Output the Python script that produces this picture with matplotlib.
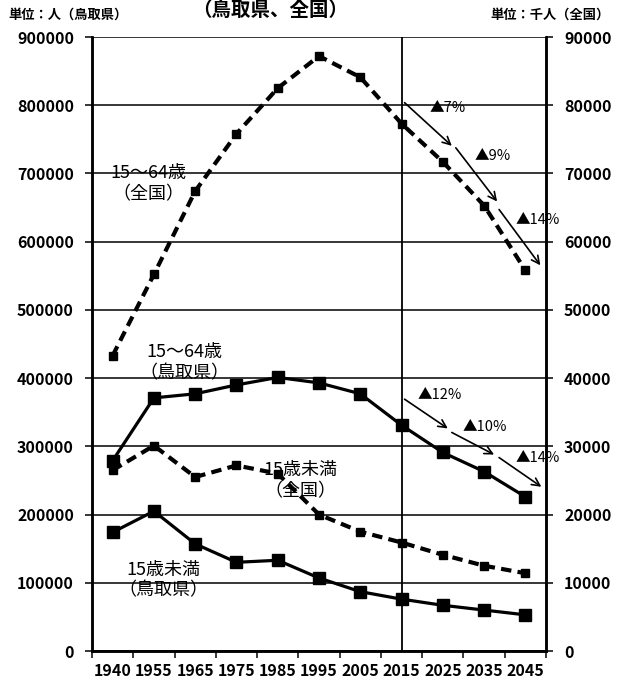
import numpy as np
import matplotlib
matplotlib.use('Agg')
import matplotlib.pyplot as plt
from matplotlib.transforms import offset_copy

plt.rcParams['font.family'] = ['Noto Sans CJK JP', 'DejaVu Sans']

# data
years = ['1940', '1955', '1965', '1975', '1985', '1995', '2005', '2015', '2025', '2035', '2045']
tottori_15_64 = [279000, 371000, 377000, 390000, 401000, 393000, 377000, 331000, 291000, 263000, 226000]
tottori_under15 = [174000, 205000, 157000, 130000, 133000, 107000, 87000, 76000, 67000, 60000, 53000]
japan_15_64 = [43300, 55200, 67400, 75800, 82500, 87200, 84100, 77300, 71700, 65300, 55800]   # thousands
japan_under15 = [26500, 30100, 25500, 27200, 26000, 20000, 17500, 15900, 14100, 12500, 11400]  # thousands
left_ticks = [0, 100000, 200000, 300000, 400000, 500000, 600000, 700000, 800000, 900000]
right_ticks = [0, 10000, 20000, 30000, 40000, 50000, 60000, 70000, 80000, 90000]
japan_drops = ['▲7%', '▲9%', '▲14%']
tottori_drops = ['▲12%', '▲10%', '▲14%']

fig = plt.figure(figsize=(6.24, 6.84), dpi=100)
ax = fig.add_axes([92 / 624, 33 / 684, 454 / 624, 614 / 684])
ax2 = ax.twinx()

x = np.arange(len(years))

# grid + frame
ax.set_xlim(-0.5, len(years) - 0.5)
ax.set_ylim(0, 900000)
ax2.set_ylim(0, 90000)
ax.set_yticks(left_ticks)
ax2.set_yticks(right_ticks)
ax.yaxis.grid(True, color='black', lw=1.1)
ax.set_axisbelow(True)
for a in (ax, ax2):
    a.spines['top'].set_visible(False)
    for s in ('left', 'right', 'bottom'):
        a.spines[s].set_linewidth(1.8)
ax.tick_params(axis='y', direction='out', length=5, width=1.1, pad=8, labelsize=11.5)
ax2.tick_params(axis='y', direction='out', length=5, width=1.1, pad=8, labelsize=11.5)
for lab in ax.get_yticklabels() + ax2.get_yticklabels():
    lab.set_fontweight('bold')

ax.set_xticks(x)
ax.set_xticklabels(years, fontsize=11.5, fontweight='bold')
ax.tick_params(axis='x', which='major', length=0, pad=9)
ax.set_xticks(np.arange(-0.5, len(years)), minor=True)
ax.tick_params(axis='x', which='minor', direction='out', length=5, width=1.1)

ax.axvline(years.index('2015'), color='black', lw=1.3)

# series
ax2.plot(x, japan_15_64, color='black', lw=3, ls=(0, (2.5, 1.5)),
         marker='s', ms=6)
ax2.plot(x, japan_under15, color='black', lw=3, ls=(0, (2.5, 1.5)),
         marker='s', ms=6)
ax.plot(x, tottori_15_64, color='black', lw=2.3, marker='s', ms=9)
ax.plot(x, tottori_under15, color='black', lw=2.3, marker='s', ms=9)

# series labels
lab_kw = dict(fontsize=13, ha='center', va='center', linespacing=1.2)
ax.text(0.86, 685000, '15～64歳\n（全国）', **lab_kw)
ax.text(1.73, 423000, '15～64歳\n（鳥取県）', **lab_kw)
ax.text(4.55, 250000, '15歳未満\n（全国）', **lab_kw)
ax.text(1.22, 104000, '15歳未満\n（鳥取県）', **lab_kw)

# projection arrows, offset in pixels from the data points
def arrow(axis, vals, k, d0, d1):
    t0 = offset_copy(axis.transData, fig=fig, x=d0[0], y=d0[1], units='dots')
    t1 = offset_copy(axis.transData, fig=fig, x=d1[0], y=d1[1], units='dots')
    axis.annotate('', xy=(k + 1, vals[k + 1]), xycoords=t1,
                  xytext=(k, vals[k]), textcoords=t0,
                  arrowprops=dict(arrowstyle='->', color='black', lw=1.2,
                                  mutation_scale=14, shrinkA=0, shrinkB=0))

i0 = years.index('2015')
jp_off = [((3, 21), (9, 16)), ((13, 14), (13, 4)), ((15, -4), (15, 5))]
tt_off = [((3, 26), (5, 24)), ((9, 20), (10, 17)), ((15, 14), (16, 10))]
for n in range(3):
    arrow(ax2, japan_15_64, i0 + n, *jp_off[n])
    arrow(ax, tottori_15_64, i0 + n, *tt_off[n])

drop_kw = dict(fontsize=10.5, ha='left', va='center')
for xp, yp, s in zip([7.67, 8.76, 9.77], [796000, 725000, 632000], japan_drops):
    ax.text(xp, yp, s, **drop_kw)
for xp, yp, s in zip([7.38, 8.47, 9.77], [375000, 328000, 283000], tottori_drops):
    ax.text(xp, yp, s, **drop_kw)

# units + title
fig.text(8 / 624, 1 - 15 / 684, '単位：人（鳥取県）', fontsize=9.5, fontweight='bold',
         ha='left', va='center')
fig.text(610 / 624, 1 - 15 / 684, '単位：千人（全国）', fontsize=9.5, fontweight='bold',
         ha='right', va='center')
fig.text(270 / 624, 1 - 1 / 684, '（鳥取県、全国）', fontsize=14, fontweight='bold',
         ha='center', va='top')

plt.savefig('out.png', dpi=100)
